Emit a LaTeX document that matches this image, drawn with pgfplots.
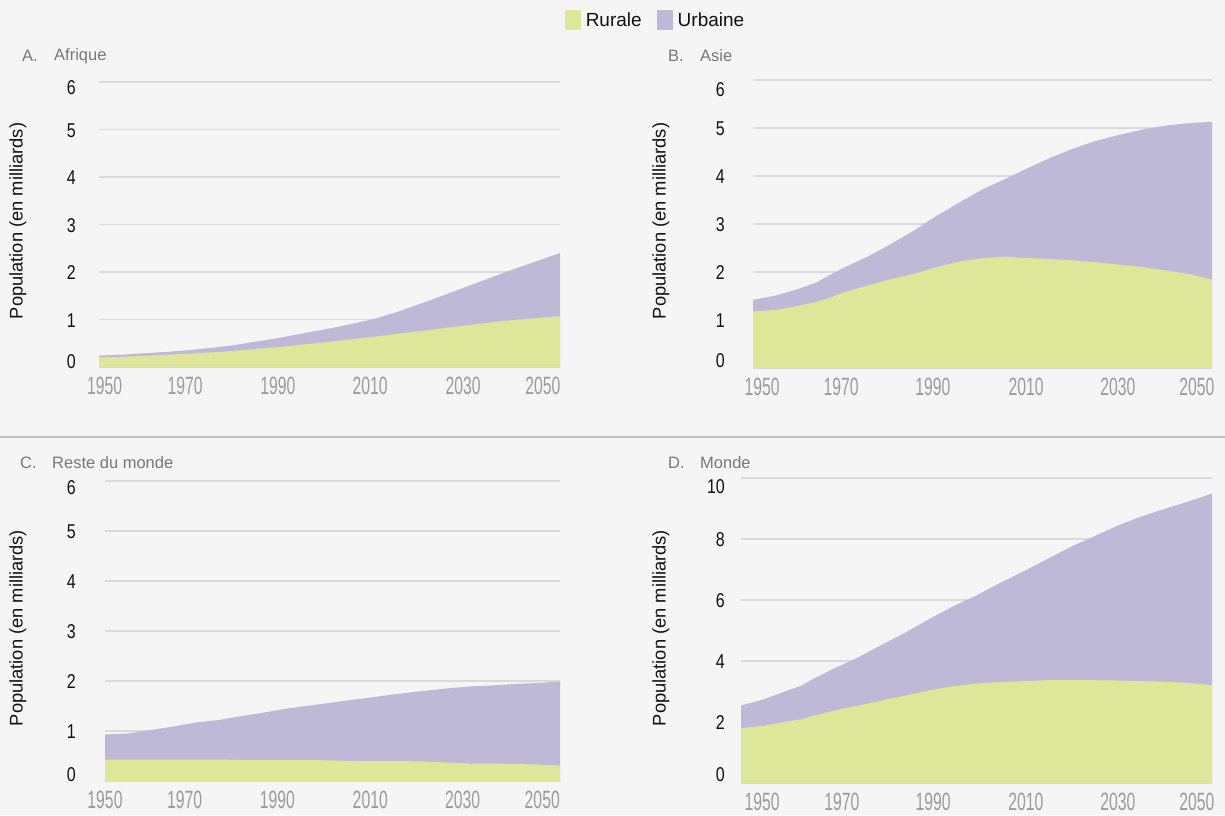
\documentclass[border=0pt]{standalone}
\usepackage{pgfplots}
\pgfplotsset{compat=1.18}
\usepackage{pgfplotstable}
\usepackage{fontspec}
\setmainfont{Liberation Sans}
\newfontfamily\ytf{Liberation Sans}[FakeStretch=0.8]
\newfontfamily\xtf{Liberation Sans}[FakeStretch=0.63]

\definecolor{bg}{HTML}{F5F5F5}
\definecolor{ruralc}{HTML}{DDE699}
\definecolor{urbc}{HTML}{BDB9D7}
\definecolor{gridc}{HTML}{DADADA}
\definecolor{xtc}{HTML}{9B9B9B}
\definecolor{titc}{HTML}{787878}
\definecolor{divc}{HTML}{BEBEBE}
\definecolor{txt}{HTML}{111111}

\pgfplotstableread{
year tot rur
1950 0.24 0.20
1955 0.26 0.215
1960 0.29 0.235
1965 0.32 0.26
1970 0.36 0.285
1975 0.41 0.31
1980 0.47 0.345
1985 0.55 0.39
1990 0.63 0.43
1995 0.72 0.48
2000 0.81 0.53
2005 0.91 0.585
2010 1.02 0.64
2015 1.17 0.70
2020 1.34 0.76
2025 1.52 0.82
2030 1.70 0.88
2035 1.88 0.94
2040 2.06 0.99
2045 2.23 1.03
2050 2.40 1.07
}\dataA

\pgfplotstableread{
year tot rur
1950 1.42 1.18
1955 1.51 1.21
1960 1.65 1.30
1964 1.79 1.38
1966 1.90 1.44
1970 2.10 1.58
1975 2.32 1.72
1980 2.58 1.85
1985 2.86 1.96
1990 3.17 2.10
1995 3.45 2.22
2000 3.72 2.29
2005 3.94 2.32
2010 4.17 2.29
2015 4.39 2.27
2020 4.58 2.24
2025 4.74 2.20
2030 4.86 2.15
2035 4.97 2.10
2040 5.05 2.03
2045 5.10 1.96
2050 5.13 1.84
}\dataB

\pgfplotstableread{
year tot rur
1950 0.93 0.43
1955 0.95 0.43
1960 1.02 0.43
1965 1.09 0.43
1970 1.17 0.43
1975 1.22 0.43
1980 1.30 0.42
1985 1.37 0.42
1990 1.45 0.42
1995 1.51 0.42
2000 1.57 0.41
2005 1.63 0.40
2010 1.69 0.40
2015 1.75 0.40
2020 1.80 0.39
2025 1.85 0.37
2030 1.89 0.35
2035 1.91 0.35
2040 1.94 0.34
2045 1.96 0.33
2050 1.99 0.31
}\dataC

\pgfplotstableread{
year tot rur
1950 2.54 1.80
1955 2.75 1.88
1960 3.04 2.02
1963 3.20 2.10
1965 3.39 2.19
1970 3.77 2.38
1975 4.13 2.54
1980 4.54 2.71
1985 4.94 2.87
1990 5.38 3.04
1995 5.79 3.17
2000 6.15 3.26
2005 6.56 3.31
2010 6.94 3.34
2015 7.34 3.37
2020 7.74 3.37
2025 8.09 3.37
2030 8.44 3.36
2035 8.74 3.34
2040 8.99 3.32
2045 9.23 3.28
2050 9.49 3.21
}\dataD

\pgfplotsset{panel/.style={
  scale only axis, xmin=1950, xmax=2050, ymin=0,
  axis line style={draw=none}, major tick length=0pt,
  ymajorgrids, grid style={gridc, line width=1.3pt},
  yticklabel={\relax},
  extra y tick style={grid=none},
  xticklabels={1950,1970,1990,2010,2030,2050},
  xticklabel style={font=\fontsize{25}{25}\selectfont\xtf, text=xtc, anchor=north, inner sep=0pt, yshift=-10pt},
  yticklabel style={font=\fontsize{20}{20}\selectfont\ytf, text=txt, anchor=east, inner sep=0pt, yshift=-1pt},
  legend image code/.code={\fill[##1] (0pt,-10pt) rectangle (16pt,10pt);},
}}

\begin{document}
\begin{tikzpicture}
\fill[bg] (0pt,0pt) rectangle (1225pt,815pt);
\draw[divc, line width=1.6pt] (0pt,378pt) -- (1225pt,378pt);

% A
\begin{axis}[panel, at={(99pt,448pt)}, anchor=south west, width=461pt, height=285pt,
  ymax=6, ytick={0,...,6}, xtick={1951.2,1968.7,1988.8,2008.8,2029.0,2046.3},
  extra y ticks={0.13,1,2,3,4,5,5.9}, extra y tick labels={0,1,2,3,4,5,6},
  yticklabel style={xshift=-23pt},
  legend style={at={(axis description cs:1.205,1.2175)}, anchor=center, draw=none, fill=none,
    legend columns=2, font=\fontsize{19}{19}\selectfont, text=txt,
    nodes={inner sep=0pt},
    /tikz/every odd column/.append style={column sep=5pt},
    /tikz/every even column/.append style={column sep=15pt}}]
\addplot[fill=urbc, draw=none, forget plot] table[x=year,y=tot]{\dataA} \closedcycle;
\addplot[fill=ruralc, draw=none, forget plot] table[x=year,y=rur]{\dataA} \closedcycle;
\addlegendimage{fill=ruralc, draw=none}
\addlegendentry{Rurale}
\addlegendimage{fill=urbc, draw=none}
\addlegendentry{Urbaine}
\end{axis}

% B
\begin{axis}[panel, at={(753pt,447pt)}, anchor=south west, width=459pt, height=288pt,
  ymax=6, ytick={0,...,6}, xtick={1952.0,1969.2,1989.2,2009.5,2029.5,2046.7},
  extra y ticks={0.17,1,2,3,4,5,5.82}, extra y tick labels={0,1,2,3,4,5,6},
  yticklabel style={xshift=-28pt}]
\addplot[fill=urbc, draw=none] table[x=year,y=tot]{\dataB} \closedcycle;
\addplot[fill=ruralc, draw=none] table[x=year,y=rur]{\dataB} \closedcycle;
\end{axis}

% C
\begin{axis}[panel, at={(105pt,34pt)}, anchor=south west, width=455pt, height=300pt,
  ymax=6, ytick={0,...,6}, xtick={1950.0,1967.5,1987.9,2008.3,2028.6,2046.1},
  extra y ticks={0.14,1,2,3,4,5,5.88}, extra y tick labels={0,1,2,3,4,5,6},
  yticklabel style={xshift=-29pt}]
\addplot[fill=urbc, draw=none] table[x=year,y=tot]{\dataC} \closedcycle;
\addplot[fill=ruralc, draw=none] table[x=year,y=rur]{\dataC} \closedcycle;
\end{axis}

% D
\begin{axis}[panel, at={(741pt,32pt)}, anchor=south west, width=471pt, height=305pt,
  ymax=10, ytick={0,2,...,10}, xtick={1954.5,1971.4,1990.8,2010.5,2030.0,2046.8},
  extra y ticks={0.3,2,4,6,8,9.74}, extra y tick labels={0,2,4,6,8,10},
  yticklabel style={xshift=-16pt}]
\addplot[fill=urbc, draw=none] table[x=year,y=tot]{\dataD} \closedcycle;
\addplot[fill=ruralc, draw=none] table[x=year,y=rur]{\dataD} \closedcycle;
\end{axis}

% titles
\begin{scope}[every node/.style={anchor=west, inner sep=0pt, text=titc, font=\fontsize{16.5}{16.5}\selectfont}]
\node at (22pt,759pt) {A.};  \node at (54pt,759pt) {Afrique};
\node at (668pt,759pt) {B.}; \node at (700pt,759pt) {Asie};
\node at (20pt,352pt) {C.};  \node at (52pt,352pt) {Reste du monde};
\node at (668pt,352pt) {D.}; \node at (700pt,352pt) {Monde};
\end{scope}

% y labels
\begin{scope}[every node/.style={rotate=90, anchor=center, inner sep=0pt, text=txt, font=\fontsize{18.3}{18.3}\selectfont}]
\node at (18pt,594pt) {Population (en milliards)};
\node at (661pt,594pt) {Population (en milliards)};
\node at (18pt,187pt) {Population (en milliards)};
\node at (661pt,187pt) {Population (en milliards)};
\end{scope}

\pgfresetboundingbox
\path (0pt,0pt) rectangle (1225pt,815pt);
\end{tikzpicture}
\end{document}
